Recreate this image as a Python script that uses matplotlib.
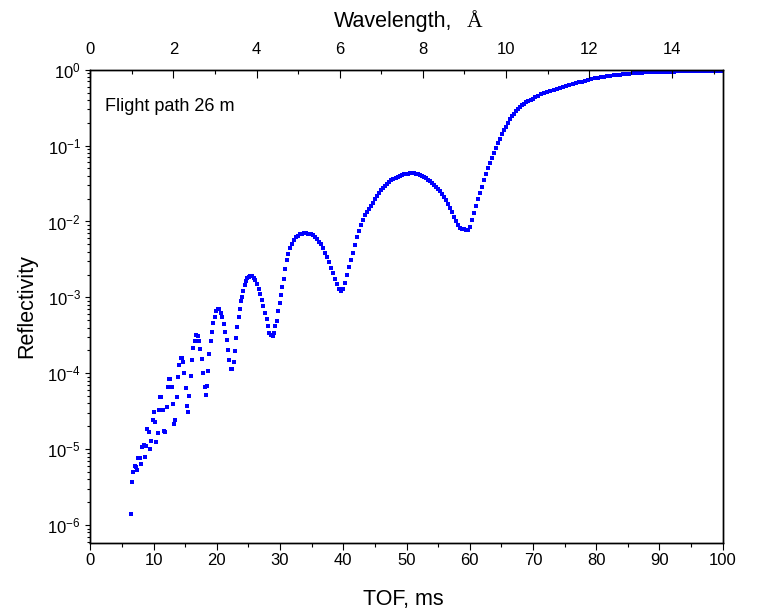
import numpy as np
import matplotlib
matplotlib.use("Agg")
import matplotlib.pyplot as plt
from matplotlib.ticker import MultipleLocator, LogLocator, NullFormatter, LogFormatterMathtext

plt.rcParams['font.family'] = ['Liberation Sans', 'DejaVu Sans']
plt.rcParams['mathtext.default'] = 'regular'
plt.rcParams['axes.unicode_minus'] = False

# ---- data: TOF (ms) and log10(reflectivity) ----
tof_low = [6.44, 6.64, 6.80, 7.02, 7.23, 7.43, 7.59, 7.81, 8.02, 8.22, 8.44, 8.65, 8.86, 9.01,
           9.23, 9.44, 9.65, 9.87, 10.07, 10.28, 10.45, 10.64, 10.82, 11.02, 11.23, 11.45,
           11.65, 11.86, 12.08, 12.24, 12.44, 12.65, 12.87, 13.08, 13.28, 13.44, 13.66, 13.87,
           14.07, 14.29, 14.50, 14.71, 14.86, 15.09, 15.29, 15.50, 15.65, 15.88, 16.08, 16.29,
           16.51, 16.71, 16.95, 17.17, 17.40, 17.66, 17.87, 18.09, 18.30, 18.50, 18.66, 18.82,
           19.04, 19.24, 19.45, 19.67, 19.88, 20.15, 20.40, 20.67, 20.87, 21.14, 21.35, 21.57,
           21.82, 21.98, 22.25, 22.41, 22.68, 22.83, 23.04, 23.24, 23.47, 23.62, 23.83, 23.99,
           24.19, 24.41, 24.62, 24.83, 25.14, 25.33, 25.52, 25.84, 26.09, 26.36, 26.63, 26.88,
           27.15, 27.36, 27.63, 27.89, 28.10, 28.30, 28.53, 28.84, 29.00, 29.25, 29.52, 29.73,
           30.00, 30.18, 30.38, 30.58]
logR_low = [-5.86, -5.43, -5.30, -5.22, -5.23, -5.28, -5.11, -5.12, -5.19, -4.97, -4.94, -5.10,
            -4.96, -4.74, -4.78, -5.00, -4.89, -4.61, -4.51, -4.64, -4.91, -4.79, -4.48, -4.31,
            -4.31, -4.48, -4.76, -4.77, -4.44, -4.18, -4.07, -4.07, -4.18, -4.40, -4.67, -4.62,
            -4.31, -4.05, -3.89, -3.80, -3.80, -3.85, -3.99, -4.19, -4.43, -4.51, -4.30, -4.04,
            -3.83, -3.67, -3.57, -3.50, -3.51, -3.57, -3.68, -3.81, -3.99, -4.18, -4.28, -4.17,
            -3.97, -3.75, -3.58, -3.45, -3.34, -3.26, -3.18, -3.15, -3.15, -3.21, -3.26, -3.35,
            -3.45, -3.56, -3.69, -3.83, -3.94, -3.95, -3.85, -3.71, -3.53, -3.39, -3.26, -3.15,
            -3.05, -2.99, -2.91, -2.84, -2.79, -2.75, -2.73, -2.72, -2.72, -2.74, -2.77, -2.82,
            -2.89, -2.96, -3.03, -3.11, -3.21, -3.29, -3.38, -3.47, -3.50, -3.51, -3.47, -3.38,
            -3.31, -3.18, -3.07, -2.97, -2.86, -2.76]

tof_mid = [30.80, 31.04, 31.30, 31.58, 31.89, 32.21, 32.55, 32.88, 33.20, 33.52, 33.85, 34.17,
           34.50, 34.82, 35.14, 35.46, 35.78, 36.10, 36.42, 36.74, 37.06, 37.38, 37.70, 38.02,
           38.34, 38.66, 38.98, 39.30, 39.62, 39.94, 40.26, 40.58, 40.90, 41.22, 41.54, 41.86,
           42.18, 42.50, 42.82, 43.14, 43.46, 43.78, 44.10, 44.42, 44.74, 45.06, 45.38, 45.70,
           46.02, 46.34, 46.66, 46.98, 47.30, 47.62, 47.94, 48.26, 48.58, 48.90, 49.22, 49.54,
           49.86, 50.18, 50.50, 50.82, 51.14, 51.46, 51.78, 52.10, 52.42, 52.74, 53.06, 53.38,
           53.70, 54.02, 54.34, 54.66, 54.98, 55.30, 55.62, 55.94, 56.26, 56.58, 56.90, 57.22,
           57.54, 57.86, 58.18, 58.50, 58.82, 59.14, 59.46, 59.78, 60.04, 60.36, 60.67, 60.99,
           61.31, 61.62, 61.94, 62.26, 62.57, 62.89, 63.21, 63.53, 63.85, 64.17, 64.49, 64.81,
           65.13, 65.45, 65.77, 66.09, 66.41, 66.73, 67.05, 67.37, 67.69, 68.01, 68.33, 68.65,
           68.97, 69.29, 69.61, 69.93, 70.25]
logR_mid = [-2.62, -2.51, -2.43, -2.35, -2.29, -2.24, -2.21, -2.185, -2.17, -2.16, -2.155, -2.155,
            -2.16, -2.17, -2.18, -2.20, -2.23, -2.265, -2.30, -2.35, -2.41, -2.47, -2.54, -2.61,
            -2.68, -2.76, -2.83, -2.89, -2.92, -2.89, -2.81, -2.71, -2.60, -2.51, -2.41, -2.31,
            -2.21, -2.12, -2.05, -1.98, -1.92, -1.87, -1.83, -1.79, -1.75, -1.71, -1.67, -1.63,
            -1.59, -1.56, -1.53, -1.50, -1.475, -1.455, -1.44, -1.425, -1.41, -1.40, -1.39, -1.38,
            -1.375, -1.37, -1.365, -1.365, -1.367, -1.37, -1.375, -1.385, -1.40, -1.41, -1.43, -1.45,
            -1.47, -1.49, -1.515, -1.54, -1.57, -1.60, -1.64, -1.68, -1.72, -1.77, -1.82, -1.88,
            -1.94, -2.00, -2.05, -2.08, -2.095, -2.105, -2.115, -2.11, -2.07, -1.98, -1.89, -1.80,
            -1.71, -1.63, -1.54, -1.45, -1.37, -1.30, -1.23, -1.16, -1.10, -1.03, -0.97, -0.91,
            -0.85, -0.80, -0.75, -0.70, -0.655, -0.615, -0.58, -0.55, -0.52, -0.495, -0.47, -0.45,
            -0.43, -0.41, -0.395, -0.38, -0.365]

tof_high = [70.75, 71.25, 71.75, 72.25, 72.75, 73.25, 73.75, 74.25, 74.75, 75.25, 75.75, 76.25,
            76.75, 77.25, 77.75, 78.25, 78.75, 79.25, 79.75, 80.25, 80.75, 81.25, 81.75, 82.25,
            82.75, 83.25, 83.75, 84.25, 84.75, 85.25, 85.75, 86.25, 86.75, 87.25, 87.75, 88.25,
            88.75, 89.25, 89.75, 90.25, 90.75, 91.25, 91.75, 92.25, 92.75, 93.25, 93.75, 94.25,
            94.75, 95.25, 95.75, 96.25, 96.75, 97.25, 97.75, 98.25, 98.75, 99.25, 99.75]
logR_high = [-0.345, -0.325, -0.308, -0.292, -0.277, -0.262, -0.248, -0.235, -0.222, -0.210,
             -0.198, -0.187, -0.176, -0.166, -0.156, -0.147, -0.138, -0.122, -0.114, -0.106,
             -0.099, -0.092, -0.086, -0.080, -0.074, -0.069, -0.064, -0.059, -0.055, -0.051,
             -0.047, -0.044, -0.041, -0.038, -0.036, -0.034, -0.032, -0.030, -0.029, -0.028,
             -0.027, -0.026, -0.025, -0.024, -0.023, -0.022, -0.021, -0.020, -0.020, -0.019,
             -0.019, -0.018, -0.018, -0.017, -0.017, -0.017, -0.016, -0.016, -0.016]

flight_path_m = 26.0          # m
h_over_m = 3956.0             # m*Å/s  (wavelength = h/m * t / L)
tof_range = (0, 100)
x_major, x_minor = 10, 5
wl_major, wl_minor = 2, 1

tof = np.array(tof_low + tof_mid + tof_high)
refl = 10.0 ** np.array(logR_low + logR_mid + logR_high)

# ---- figure ----
fig = plt.figure(figsize=(7.57, 6.13), dpi=100)
ax = fig.add_axes([0.1193, 0.1137, 0.8354, 0.7726])

ax.plot(tof, refl, linestyle='none', marker='s', markersize=2.6,
        markeredgewidth=0, color='#0000ff')

ax.set_xlim(*tof_range)
ax.set_yscale('log')
ax.set_ylim(10 ** -6.24, 1.0)

for s in ax.spines.values():
    s.set_linewidth(1.0)
    s.set_color('black')

ax.xaxis.set_major_locator(MultipleLocator(x_major))
ax.xaxis.set_minor_locator(MultipleLocator(x_minor))
ax.yaxis.set_major_locator(LogLocator(base=10, numticks=20))
ax.yaxis.set_minor_locator(LogLocator(base=10, subs=np.arange(2, 10), numticks=100))
ax.yaxis.set_minor_formatter(NullFormatter())
ax.yaxis.set_major_formatter(LogFormatterMathtext())

ax.tick_params(axis='x', which='major', direction='out', length=4.7, width=0.8,
               labelsize=12, pad=2.5, top=False)
ax.tick_params(axis='x', which='minor', direction='out', length=2.7, width=0.8, top=False)
ax.tick_params(axis='y', which='major', direction='out', length=3.8, width=0.8,
               labelsize=12, pad=3, right=False)
ax.tick_params(axis='y', which='minor', direction='out', length=2.2, width=0.8, right=False)

# top axis: wavelength
ax2 = ax.twiny()
wl_max = h_over_m * (tof_range[1] / 1000.0) / flight_path_m
ax2.set_xlim(0, wl_max)
ax2.xaxis.set_major_locator(MultipleLocator(wl_major))
ax2.xaxis.set_minor_locator(MultipleLocator(wl_minor))
ax2.tick_params(axis='x', which='major', direction='in', length=6.0, width=0.8,
                labelsize=12, pad=9)
ax2.tick_params(axis='x', which='minor', direction='in', length=3.0, width=0.8)
for s in ax2.spines.values():
    s.set_linewidth(1.0)

# labels
fig.text(403 / 757, 1 - 605 / 613, 'TOF, ms', ha='center', va='baseline', fontsize=15.5)
fig.text(27 / 757, 1 - 306 / 613, 'Reflectivity', ha='center', va='center',
         rotation=90, fontsize=15.5)
fig.text(452 / 757, 1 - 27 / 613, 'Wavelength,', ha='right', va='baseline', fontsize=15.5)
fig.text(467 / 757, 1 - 27 / 613, 'Å', ha='left', va='baseline', fontsize=15.5,
         family=['Liberation Serif', 'DejaVu Serif'])

ax.text(0.023, 0.922, 'Flight path 26 m', transform=ax.transAxes, ha='left', va='center',
        fontsize=13)

fig.savefig('out.png', dpi=100)
